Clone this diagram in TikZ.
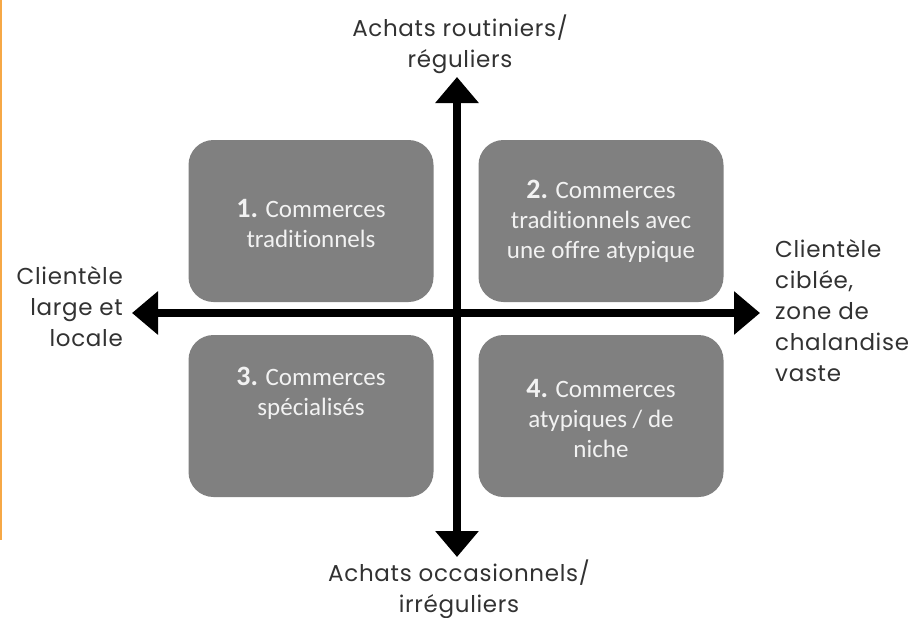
\documentclass[tikz,border=0pt]{standalone}
\usepackage{fontspec}
\setmainfont{Poppins}
\newfontfamily\boxfont[Ligatures=NoCommon]{Carlito}
\usetikzlibrary{arrows.meta}

\definecolor{quadfill}{RGB}{128,128,128}
\definecolor{quadtext}{RGB}{242,242,242}
\definecolor{labeltext}{RGB}{50,50,50}
\definecolor{edgeorange}{RGB}{246,168,70}

\tikzset{
  quad/.style={draw=none, fill=quadfill, rounded corners=25pt,
    minimum width=245pt, minimum height=162pt, inner sep=0pt},
  quadlabel/.style={text=quadtext, align=center, inner sep=0pt,
    font=\boxfont\fontsize{25}{30}\selectfont},
  axislabel/.style={text=labeltext, inner sep=0pt,
    font=\addfontfeature{LetterSpace=3}\fontsize{23}{31}\selectfont},
  axis/.style={line width=8pt,
    {Triangle[width=42pt,length=26pt]}-{Triangle[width=42pt,length=26pt]}}
}
\newcommand{\quadnum}[1]{{\bfseries\fontsize{28}{30}\selectfont #1}}

\begin{document}
\begin{tikzpicture}[x=1pt,y=-1pt]
  \useasboundingbox (0,0) rectangle (918,618);

  % orange margin rule
  \draw[edgeorange, line width=2pt] (1,0) -- (1,540);

  % the four quadrants
  \node[quad] (q1) at (311,221) {};
  \node[quad] (q2) at (601,221) {};
  \node[quad] (q3) at (311,416) {};
  \node[quad] (q4) at (601,416) {};

  \node[quadlabel] (t1) at (311,223)
    {\quadnum{1.} Commerces\\traditionnels};
  \node[quadlabel] (t2) at (601,221)
    {\quadnum{2.} Commerces\\traditionnels avec\\une offre atypique};
  \node[quadlabel] (t3) at (311,393)
    {\quadnum{3.} Commerces\\spécialisés};
  \node[quadlabel] (t4) at (601,418)
    {\quadnum{4.} Commerces\\atypiques / de\\niche};

  % axes
  \coordinate (top) at (457,77);
  \coordinate (bottom) at (457,557);
  \coordinate (left) at (132,313);
  \coordinate (right) at (760,313);
  \draw[axis] (bottom) -- (top);
  \draw[axis] (left) -- (right);

  % axis labels
  \node[axislabel, align=center] (ltop) at (460,44)
    {Achats routiniers/\\réguliers};
  \node[axislabel, align=center] (lbottom) at (459,589)
    {Achats occasionnels/\\irréguliers};
  \node[axislabel, align=right, anchor=east] (lleft) at (123,307)
    {Clientèle\\large et\\locale};
  \node[axislabel, align=left, anchor=west] (lright) at (775,311)
    {Clientèle\\ciblée,\\zone de\\chalandise\\vaste};
\end{tikzpicture}
\end{document}
